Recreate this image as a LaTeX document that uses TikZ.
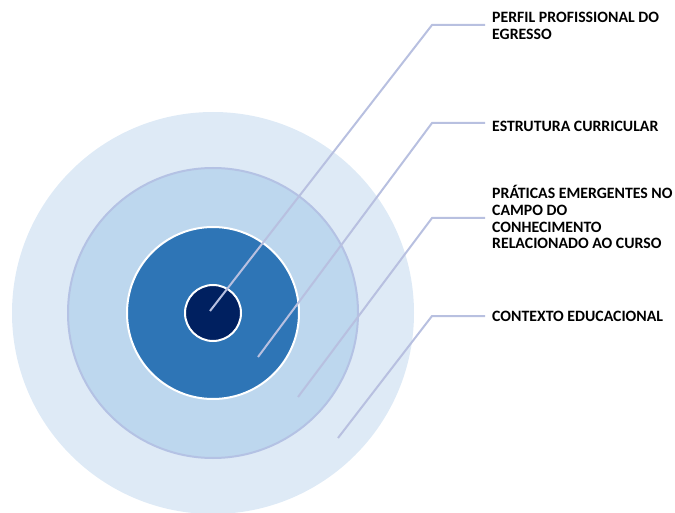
\documentclass[tikz,border=0pt]{standalone}
\usepackage{fontspec}
\setmainfont{Carlito}
\definecolor{ring1}{HTML}{DEEAF6}
\definecolor{ring2}{HTML}{BDD7EE}
\definecolor{ring2b}{HTML}{B4C2E4}
\definecolor{ring3}{HTML}{2E75B6}
\definecolor{core}{HTML}{002060}
\definecolor{leader}{HTML}{B8C0E0}
\begin{document}
\begin{tikzpicture}[x=1pt,y=-1pt,
  disc/.style={circle,inner sep=0pt,outer sep=0pt},
  leaderline/.style={draw=leader,line width=2pt},
  lbl/.style={anchor=base west,inner sep=0pt,align=left,font=\bfseries\fontsize{15.8}{16.5}\selectfont,text=black}]
\useasboundingbox (0,0) rectangle (675,513);
\node[disc,fill=ring1,minimum size=402pt] (c1) at (213,313) {};
\node[disc,fill=ring2,draw=ring2b,line width=2pt,minimum size=290pt] (c2) at (213,313) {};
\node[disc,fill=ring3,draw=white,line width=2pt,minimum size=172pt] (c3) at (213,313) {};
\node[disc,fill=core,draw=white,line width=2pt,minimum size=56pt] (c4) at (213,313) {};
% leader points
\coordinate (p1) at (210,311);
\coordinate (p2) at (258,357);
\coordinate (p3) at (298,397);
\coordinate (p4) at (338,438);
\coordinate (k1) at (432,25);
\coordinate (k2) at (432,123);
\coordinate (k3) at (432,218);
\coordinate (k4) at (432,316);
\coordinate (h1) at (485,25);
\coordinate (h2) at (485,123);
\coordinate (h3) at (485,218);
\coordinate (h4) at (485,316);
\draw[leaderline] (p1) -- (k1) -- (h1);
\draw[leaderline] (p2) -- (k2) -- (h2);
\draw[leaderline] (p3) -- (k3) -- (h3);
\draw[leaderline] (p4) -- (k4) -- (h4);
\node[lbl] (t1) at (492,39.5) {PERFIL PROFISSIONAL DO\\EGRESSO};
\node[lbl] (t2) at (492,131.5) {ESTRUTURA CURRICULAR};
\node[lbl] (t3) at (492,248.5) {PRÁTICAS EMERGENTES NO\\CAMPO DO\\CONHECIMENTO\\RELACIONADO AO CURSO};
\node[lbl] (t4) at (492,321.5) {CONTEXTO EDUCACIONAL};
\end{tikzpicture}
\end{document}
